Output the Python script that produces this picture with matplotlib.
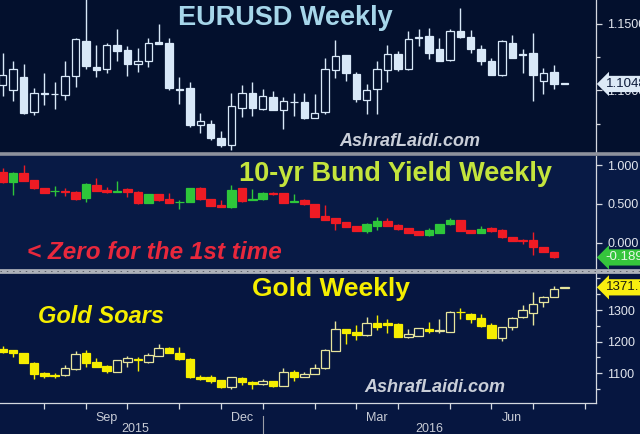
import matplotlib
matplotlib.use('Agg')
import matplotlib.pyplot as plt
import matplotlib.transforms as mtransforms
from matplotlib.lines import Line2D
from matplotlib.patches import Rectangle
import numpy as np
import pandas as pd

# weekly bars (Friday dates)
first_week = '2015-07-10'
n_weeks = 55

eur_open = [1.1040, 1.1005, 1.1097, 1.0837, 1.0980, 1.0973, 1.0965, 1.1109, 1.1369, 1.1176,
            1.1158, 1.1337, 1.1302, 1.1198, 1.1220, 1.1364, 1.1356, 1.1010, 1.1015, 1.0738,
            1.0750, 1.0644, 1.0589, 1.0869, 1.0980, 1.0857, 1.0948, 1.0854, 1.0914, 1.0916,
            1.0795, 1.0837, 1.1154, 1.1262, 1.1126, 1.0928, 1.1010, 1.1151, 1.1275, 1.1158,
            1.1399, 1.1406, 1.1307, 1.1228, 1.1448, 1.1401, 1.1307, 1.1220, 1.1114, 1.1352,
            1.1275, 1.1282, 1.1067, 1.1141, 1.1050]
eur_high = [1.1282, 1.1220, 1.1196, 1.1015, 1.1134, 1.1060, 1.1220, 1.1392, 1.1714, 1.1337,
            1.1352, 1.1460, 1.1332, 1.1319, 1.1394, 1.1500, 1.1394, 1.1097, 1.1060, 1.0832,
            1.0775, 1.0693, 1.0980, 1.1040, 1.1064, 1.1010, 1.0998, 1.0948, 1.0980, 1.0978,
            1.0973, 1.1245, 1.1381, 1.1264, 1.1139, 1.1047, 1.1220, 1.1344, 1.1295, 1.1443,
            1.1460, 1.1468, 1.1394, 1.1460, 1.1616, 1.1455, 1.1344, 1.1245, 1.1376, 1.1418,
            1.1307, 1.1431, 1.1171, 1.1188, 1.1052]
eur_low = [1.0961, 1.0923, 1.0825, 1.0812, 1.0891, 1.0857, 1.0928, 1.1022, 1.1158, 1.1097,
           1.1129, 1.1220, 1.1109, 1.1139, 1.1176, 1.1346, 1.1005, 1.0899, 1.0725, 1.0683,
           1.0626, 1.0572, 1.0552, 1.0800, 1.0807, 1.0849, 1.0852, 1.0713, 1.0807, 1.0782,
           1.0793, 1.0824, 1.1089, 1.1072, 1.0916, 1.0824, 1.0824, 1.1060, 1.1146, 1.1156,
           1.1332, 1.1238, 1.1218, 1.1220, 1.1394, 1.1282, 1.1188, 1.1112, 1.1104, 1.1243,
           1.1134, 1.0923, 1.0973, 1.1010, 1.1046]
eur_close = [1.1114, 1.1163, 1.0829, 1.0980, 1.0970, 1.0970, 1.1109, 1.1389, 1.1183, 1.1151,
             1.1337, 1.1295, 1.1196, 1.1218, 1.1356, 1.1349, 1.1015, 1.1003, 1.0738, 1.0768,
             1.0639, 1.0589, 1.0881, 1.0980, 1.0866, 1.0961, 1.0854, 1.0923, 1.0909, 1.0795,
             1.0829, 1.1158, 1.1257, 1.1129, 1.0936, 1.1003, 1.1158, 1.1270, 1.1163, 1.1389,
             1.1394, 1.1282, 1.1220, 1.1448, 1.1401, 1.1307, 1.1220, 1.1114, 1.1369, 1.1245,
             1.1265, 1.1114, 1.1134, 1.1047, 1.1048]

nan = np.nan
bund_open = [0.915, 0.786, 0.901, 0.807, 0.708, 0.661, 0.661, 0.657, 0.580, 0.743,
             0.678, 0.657, 0.687, 0.657, 0.515, 0.622, 0.558, 0.520, 0.528, 0.700,
             0.558, 0.485, 0.455, 0.700, 0.550, 0.558, 0.644, 0.636, 0.520, 0.550,
             0.498, 0.344, 0.314, 0.271, 0.215, 0.150, 0.215, 0.284, 0.228, 0.185,
             0.155, 0.099, 0.129, 0.241, 0.292, 0.163, 0.121, 0.185, 0.163, 0.078,
             0.035, 0.035, -0.060, -0.116, nan]
bund_high = [0.957, 0.905, 1.000, 0.810, 0.710, 0.730, 0.700, 0.660, 0.764, 0.829,
             0.721, 0.798, 0.700, 0.660, 0.625, 0.625, 0.644, 0.550, 0.710, 0.721,
             0.560, 0.550, 0.743, 0.703, 0.687, 0.657, 0.647, 0.640, 0.622, 0.562,
             0.500, 0.485, 0.316, 0.273, 0.218, 0.258, 0.335, 0.314, 0.241, 0.187,
             0.157, 0.185, 0.243, 0.322, 0.295, 0.165, 0.215, 0.198, 0.172, 0.080,
             0.043, 0.142, -0.058, -0.114, nan]
bund_low = [0.764, 0.614, 0.790, 0.697, 0.636, 0.601, 0.601, 0.550, 0.528, 0.663,
            0.644, 0.655, 0.592, 0.498, 0.512, 0.541, 0.505, 0.429, 0.526, 0.555,
            0.470, 0.462, 0.452, 0.528, 0.548, 0.555, 0.614, 0.507, 0.518, 0.485,
            0.333, 0.290, 0.163, 0.198, 0.148, 0.121, 0.163, 0.212, 0.170, 0.127,
            0.097, 0.086, 0.127, 0.228, 0.153, 0.121, 0.119, 0.142, 0.067, 0.024,
            -0.017, -0.158, -0.118, -0.191, nan]
bund_close = [0.786, 0.901, 0.794, 0.700, 0.644, 0.670, 0.648, 0.558, 0.751, 0.666,
              0.653, 0.670, 0.657, 0.507, 0.622, 0.550, 0.507, 0.528, 0.708, 0.558,
              0.472, 0.464, 0.678, 0.537, 0.558, 0.644, 0.622, 0.515, 0.541, 0.494,
              0.335, 0.292, 0.258, 0.206, 0.150, 0.241, 0.284, 0.215, 0.172, 0.129,
              0.099, 0.163, 0.241, 0.292, 0.155, 0.129, 0.176, 0.150, 0.069, 0.026,
              0.026, -0.051, -0.116, -0.189, nan]

gold_open = [1175.8, 1173.7, 1163.2, 1133.7, 1100.0, 1094.7, 1094.7, 1112.7, 1163.2, 1134.8,
             1123.2, 1105.3, 1136.9, 1146.3, 1136.9, 1154.8, 1179.0, 1163.2, 1144.2, 1089.5,
             1087.4, 1078.9, 1057.9, 1086.3, 1073.7, 1066.3, 1075.8, 1061.1, 1105.3, 1089.5,
             1097.9, 1115.8, 1171.6, 1239.0, 1231.6, 1221.1, 1260.0, 1257.9, 1255.8, 1215.8,
             1219.0, 1240.0, 1233.7, 1231.6, 1294.7, 1286.3, 1273.7, 1252.6, 1212.6, 1245.3,
             1276.8, 1291.6, 1324.2, 1342.1, 1370.7]
gold_high = [1186.3, 1175.0, 1164.0, 1134.5, 1105.3, 1102.1, 1126.3, 1170.5, 1173.7, 1147.4,
             1126.3, 1143.0, 1154.8, 1152.6, 1163.2, 1192.6, 1182.1, 1184.2, 1147.4, 1094.7,
             1094.7, 1079.5, 1089.5, 1089.5, 1076.9, 1081.1, 1076.5, 1115.8, 1110.6, 1105.3,
             1128.4, 1175.8, 1266.3, 1239.5, 1252.6, 1278.9, 1284.2, 1270.5, 1260.0, 1239.0,
             1242.5, 1263.2, 1270.5, 1297.9, 1305.3, 1289.5, 1287.4, 1257.9, 1246.0, 1278.9,
             1315.8, 1357.9, 1343.0, 1375.8, 1373.0]
gold_low = [1163.2, 1150.5, 1133.0, 1081.1, 1084.2, 1084.2, 1091.6, 1110.6, 1118.9, 1118.9,
            1102.1, 1104.5, 1121.1, 1108.4, 1133.7, 1154.0, 1163.2, 1143.5, 1084.2, 1078.9,
            1068.4, 1052.7, 1049.5, 1063.2, 1049.5, 1063.2, 1057.9, 1060.0, 1076.9, 1087.4,
            1097.5, 1115.0, 1171.0, 1192.6, 1205.3, 1219.0, 1236.9, 1226.3, 1213.7, 1212.6,
            1217.9, 1226.3, 1228.4, 1231.0, 1270.5, 1257.9, 1247.4, 1212.0, 1203.2, 1236.9,
            1273.7, 1252.6, 1308.4, 1340.0, 1370.0]
gold_close = [1168.4, 1163.2, 1133.7, 1097.9, 1092.6, 1092.6, 1115.8, 1160.0, 1131.6, 1121.1,
              1107.4, 1142.1, 1147.4, 1142.1, 1157.9, 1179.0, 1165.3, 1144.2, 1087.4, 1082.1,
              1076.9, 1055.8, 1087.4, 1073.7, 1066.3, 1075.8, 1060.0, 1103.2, 1087.4, 1096.9,
              1117.9, 1173.7, 1239.0, 1226.3, 1221.1, 1260.0, 1247.4, 1252.6, 1215.8, 1224.2,
              1242.1, 1233.7, 1236.9, 1294.7, 1292.6, 1270.5, 1249.5, 1212.6, 1245.3, 1273.7,
              1300.0, 1317.9, 1342.1, 1365.3, 1371.7]

eur_last = '1.1048'
bund_last = '-0.189'
gold_last = '1371.7'

BG1 = '#03102d'
BG2 = '#081a45'
BG3 = '#061640'
AXIS = '#d4d8e0'
TXT = '#e2e6ee'


def draw_candles(ax, o, h, l, c, width, up_face, up_edge, down_face, down_edge, min_body):
    o, h, l, c = (np.asarray(a, dtype=float) for a in (o, h, l, c))
    x = np.arange(len(o))
    ok = ~np.isnan(o)
    up = c > o
    down = ~up
    ax.vlines(x[ok & up], l[ok & up], h[ok & up], colors=up_edge, linewidth=1, zorder=2)
    ax.vlines(x[ok & down], l[ok & down], h[ok & down], colors=down_edge, linewidth=1, zorder=2)
    bottom = np.minimum(o, c)
    height = np.maximum(np.abs(c - o), min_body)
    m = ok & up
    ax.bar(x[m], height[m], width, bottom=bottom[m], facecolor=up_face,
           edgecolor=up_edge, linewidth=0.9, zorder=3)
    m = ok & down
    ax.bar(x[m], height[m], width, bottom=bottom[m], facecolor=down_face,
           edgecolor=down_edge, linewidth=0.9, zorder=3)


def style_panel(ax, bg):
    ax.set_facecolor(bg)
    for s in ['top', 'left', 'bottom']:
        ax.spines[s].set_visible(False)
    ax.spines['right'].set_color(AXIS)
    ax.spines['right'].set_linewidth(0.9)
    ax.yaxis.tick_right()
    ax.tick_params(axis='y', which='both', direction='out', color=AXIS,
                   labelcolor=TXT, labelsize=9, length=4, width=0.9, pad=4)
    ax.tick_params(axis='y', which='minor', length=3)
    ax.set_xlim(-0.26, 57.05)


def fix_labels(ax):
    for lab in ax.get_yticklabels():
        lab.set_fontfamily('Liberation Sans')


def last_label(ax, y, text, face, color):
    tr = mtransforms.blended_transform_factory(ax.transAxes, ax.transData)
    ax.text(1.016, y, text, transform=tr, ha='left', va='center', fontsize=9.5,
            color=color, family='Liberation Sans', zorder=10, clip_on=False,
            bbox=dict(boxstyle='larrow,pad=0.16', facecolor=face, edgecolor='none'))


fig = plt.figure(figsize=(6.4, 4.34), dpi=100)
fig.patch.set_facecolor(BG3)
H = 434.0
fig.patches.append(Rectangle((0, 1 - 154 / H), 1, 154 / H, transform=fig.transFigure,
                             facecolor=BG1, edgecolor='none', zorder=-5))
fig.patches.append(Rectangle((0, 1 - 270 / H), 1, 116 / H, transform=fig.transFigure,
                             facecolor=BG2, edgecolor='none', zorder=-5))

W = 596 / 640
ax1 = fig.add_axes([0, 1 - 153 / H, W, 153 / H])
ax2 = fig.add_axes([0, 1 - 268 / H, W, 112 / H])
ax3 = fig.add_axes([0, 1 - 402.7 / H, W, 129.7 / H])

# EURUSD
style_panel(ax1, BG1)
draw_candles(ax1, eur_open, eur_high, eur_low, eur_close, 0.72,
             BG1, '#d8e8f8', '#d8e8f8', '#d8e8f8', 0.0005)
ax1.set_ylim(1.0530, 1.1678)
ax1.set_yticks([1.10, 1.15])
ax1.set_yticklabels(['1.1000', '1.1500'])
ax1.set_yticks([1.075, 1.125], minor=True)
ax1.set_xticks([])
fix_labels(ax1)
last_label(ax1, float(eur_last), eur_last, '#dce9f6', '#0a1838')
ax1.text(0.478, 0.885, 'EURUSD Weekly', transform=ax1.transAxes, ha='center', va='center',
         fontsize=19.5, fontweight='bold', color='#a6d6ea', family='Liberation Sans')
ax1.text(0.688, 0.075, 'AshrafLaidi.com', transform=ax1.transAxes, ha='center', va='center',
         fontsize=13, fontweight='bold', style='italic', color='#c9ced8',
         family='Liberation Sans')

# Bund
style_panel(ax2, BG2)
draw_candles(ax2, bund_open, bund_high, bund_low, bund_close, 0.82,
             '#2ec63a', '#2ec63a', '#ee1b24', '#ee1b24', 0.008)
ax2.set_ylim(-0.325, 1.116)
ax2.set_yticks([0.0, 0.5, 1.0])
ax2.set_yticklabels(['0.000', '0.500', '1.000'])
ax2.set_xticks([])
fix_labels(ax2)
last_label(ax2, float(bund_last), bund_last, '#35c53c', '#e8f8e8')
ax2.text(0.664, 0.84, '10-yr Bund Yield Weekly', transform=ax2.transAxes, ha='center',
         va='center', fontsize=19.5, fontweight='bold', color='#c4e43c',
         family='Liberation Sans')
ax2.text(0.259, 0.135, '< Zero for the 1st time', transform=ax2.transAxes, ha='center',
         va='center', fontsize=17.5, fontweight='bold', style='italic', color='#e8283c',
         family='Liberation Sans')

# Gold
style_panel(ax3, BG3)
ax3.spines['bottom'].set_visible(True)
ax3.spines['bottom'].set_color(AXIS)
ax3.spines['bottom'].set_linewidth(0.9)
draw_candles(ax3, gold_open, gold_high, gold_low, gold_close, 0.82,
             BG3, '#e6e49c', '#f6ee00', '#f6ee00', 1.6)
ax3.set_ylim(1007, 1417)
ax3.set_yticks([1100, 1200, 1300])
ax3.set_yticks([1050, 1150, 1250, 1350, 1400], minor=True)
fix_labels(ax3)
last_label(ax3, float(gold_last), gold_last, '#f8ee10', '#1a1a10')
ax3.text(0.556, 0.875, 'Gold Weekly', transform=ax3.transAxes, ha='center', va='center',
         fontsize=19, fontweight='bold', color='#f5ee00', family='Liberation Sans')
ax3.text(0.17, 0.665, 'Gold Soars', transform=ax3.transAxes, ha='center', va='center',
         fontsize=17, fontweight='bold', style='italic', color='#f5ee00',
         family='Liberation Sans')
ax3.text(0.729, 0.12, 'AshrafLaidi.com', transform=ax3.transAxes, ha='center', va='center',
         fontsize=13, fontweight='bold', style='italic', color='#c9ced8',
         family='Liberation Sans')

# date axis: ticks at first bar of each month
axis_dates = pd.date_range(first_week, periods=58, freq='W-FRI')
months = axis_dates.to_period('M')
month_idx = [i for i in range(1, len(axis_dates)) if months[i] != months[i - 1]]
ax3.set_xticks(month_idx)
ax3.set_xticklabels([])
ax3.tick_params(axis='x', direction='out', length=4, width=0.9, color=AXIS)

trx = mtransforms.blended_transform_factory(ax3.transData, ax3.transAxes)
for a, b in zip(month_idx[:-1], month_idx[1:]):
    if axis_dates[a].month in (3, 6, 9, 12):
        ax3.text((a + b) / 2, -0.115, axis_dates[a].strftime('%b'), transform=trx,
                 ha='center', va='center', fontsize=9, color='#c8ccd6',
                 family='Liberation Sans')
jan = [i for i in month_idx if axis_dates[i].month == 1][0]
x0, x1 = ax3.get_xlim()
ax3.text((x0 + jan) / 2 + 0.4, -0.2, str(axis_dates[0].year), transform=trx, ha='center',
         va='center', fontsize=9, color='#c8ccd6', family='Liberation Sans')
ax3.text((jan + x1) / 2, -0.2, str(axis_dates[jan].year), transform=trx, ha='center',
         va='center', fontsize=9, color='#c8ccd6', family='Liberation Sans')
ax3.plot([jan, jan], [-0.105, -0.245], transform=trx, color='#9a9ea8', lw=0.8,
         clip_on=False)

# panel separators
fig.add_artist(Line2D([0, 1], [1 - 154.3 / H] * 2, transform=fig.transFigure,
                      color='#8d919c', lw=2.6))
fig.add_artist(Line2D([0, 1], [1 - 270.8 / H] * 2, transform=fig.transFigure,
                      color='#aeb2ba', lw=3.4))
fig.add_artist(Line2D([0, 1], [1 - 270.5 / H] * 2, transform=fig.transFigure,
                      color='#5c606a', lw=0.7, dashes=(1.5, 5)))

fig.savefig('out.png', dpi=100, facecolor=fig.get_facecolor())
